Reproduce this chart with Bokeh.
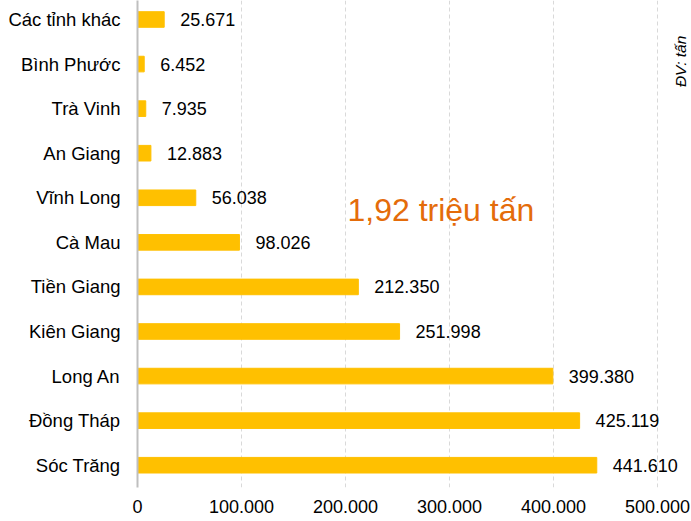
import math
from bokeh.plotting import figure
from bokeh.models import ColumnDataSource, Range1d, FixedTicker, Label
from bokeh.embed import file_html
from bokeh.resources import INLINE

# Data (bottom to top)
provinces = ["Sóc Trăng", "Đồng Tháp", "Long An", "Kiên Giang", "Tiền Giang",
             "Cà Mau", "Vĩnh Long", "An Giang", "Trà Vinh", "Bình Phước", "Các tỉnh khác"]
values = [441610, 425119, 399380, 251998, 212350, 98026, 56038, 12883, 7935, 6452, 25671]
x_ticks = [0, 100000, 200000, 300000, 400000, 500000]
x_tick_labels = ["0", "100.000", "200.000", "300.000", "400.000", "500.000"]
total_note = "1,92 triệu tấn"
unit_note = "ĐV: tấn"

FONT = "Liberation Sans"

def fmt(v):
    return f"{v:,}".replace(",", ".")

idx = list(range(len(provinces)))
src = ColumnDataSource(dict(y=idx, v=values, lbl=[fmt(v) for v in values]))

p = figure(width=691, height=521, output_backend="svg", toolbar_location=None,
           x_range=Range1d(0, 532700), y_range=Range1d(-0.5, 10.426),
           min_border_left=137, min_border_right=0, min_border_top=0, min_border_bottom=34)
p.outline_line_color = None
p.background_fill_color = "white"

p.hbar(y="y", right="v", left=0, height=0.35, source=src, color="#FFC000")
p.text(x="v", y="y", text="lbl", source=src, x_offset=16, text_align="left",
       text_baseline="middle", text_font_size="18px", text_color="#000000",
       text_font={"value": FONT})

# Y axis
p.yaxis.ticker = FixedTicker(ticks=idx)
p.yaxis.major_label_overrides = {i: n for i, n in zip(idx, provinces)}
p.yaxis.major_label_text_font = FONT
p.yaxis.major_label_text_font_size = "18.5px"
p.yaxis.major_label_text_color = "#000000"
p.yaxis.major_label_standoff = 17
p.yaxis.major_tick_out = 0
p.yaxis.major_tick_in = 0
p.yaxis.major_tick_line_color = None
p.yaxis.minor_tick_line_color = None
p.yaxis.axis_line_color = "#BFBFBF"
p.yaxis.axis_line_width = 2
p.ygrid.grid_line_color = None

# X axis
p.xaxis.ticker = FixedTicker(ticks=x_ticks)
p.xaxis.major_label_overrides = {t: l for t, l in zip(x_ticks, x_tick_labels)}
p.xaxis.major_label_text_font = FONT
p.xaxis.major_label_text_font_size = "18px"
p.xaxis.major_label_text_color = "#000000"
p.xaxis.major_label_standoff = 12
p.xaxis.major_tick_out = 0
p.xaxis.major_tick_in = 0
p.xaxis.axis_line_color = None
p.xaxis.major_tick_line_color = None
p.xaxis.minor_tick_line_color = None
p.xgrid.grid_line_color = "#D9D9D9"
p.xgrid.grid_line_dash = "4 3"

p.add_layout(Label(x=201900, y=5.72, text=total_note, text_font=FONT,
                   text_font_size="32px", text_color="#E46C0A",
                   text_align="left", text_baseline="middle"))
p.add_layout(Label(x=522500, y=9.06, text=unit_note, text_font=FONT,
                   text_font_size="15.5px", text_font_style="italic",
                   text_color="#000000", angle=math.pi / 2,
                   text_align="center", text_baseline="middle"))

open("out.html", "w").write(file_html(p, INLINE))
